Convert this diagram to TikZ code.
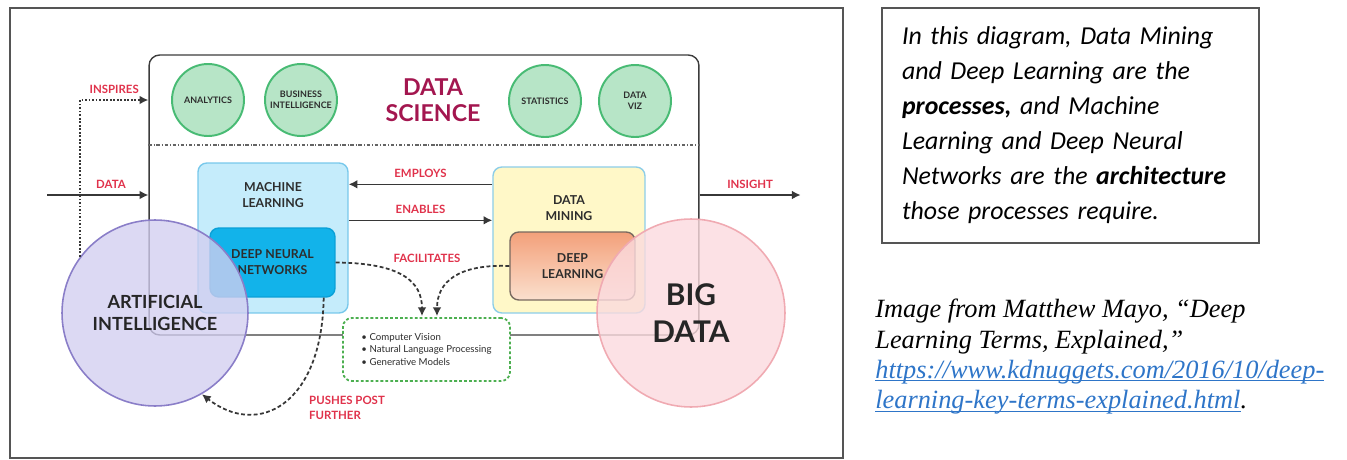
\documentclass[tikz,border=0pt]{standalone}
\usepackage{fontspec}
\newfontfamily\latofont{Lato}
\newfontfamily\calibrifont{Carlito}
\newfontfamily\timesfont{Liberation Serif}
\usetikzlibrary{shapes, arrows.meta, positioning, calc}
\definecolor{cFrame}{RGB}{85, 85, 85}
\definecolor{cDsDraw}{RGB}{60, 60, 60}
\definecolor{cSep}{RGB}{100, 100, 100}
\definecolor{cDsText}{RGB}{163, 22, 79}
\definecolor{cTopicFill}{RGB}{183, 229, 199}
\definecolor{cTopicDraw}{RGB}{72, 187, 116}
\definecolor{cMlFill}{RGB}{197, 236, 251}
\definecolor{cMlDraw}{RGB}{120, 200, 235}
\definecolor{cDnnFill}{RGB}{18, 179, 234}
\definecolor{cDnnDraw}{RGB}{10, 160, 215}
\definecolor{cDmFill}{RGB}{255, 248, 200}
\definecolor{cDmDraw}{RGB}{140, 205, 232}
\definecolor{cDlTop}{RGB}{243, 160, 122}
\definecolor{cDlBottom}{RGB}{251, 224, 206}
\definecolor{cDlDraw}{RGB}{120, 105, 95}
\definecolor{cGbDraw}{RGB}{76, 175, 80}
\definecolor{cAiFill}{RGB}{210, 206, 240}
\definecolor{cAiDraw}{RGB}{138, 126, 200}
\definecolor{cBdFill}{RGB}{251, 218, 222}
\definecolor{cBdDraw}{RGB}{240, 170, 178}
\definecolor{cRel}{RGB}{224, 50, 75}
\definecolor{cBoxText}{RGB}{45, 45, 45}
\definecolor{lineColor}{RGB}{55, 55, 55}
\definecolor{cLink}{RGB}{46, 117, 200}
\newcommand\linkText[1]{\textcolor{cLink}{\underline{\smash{#1}}}}
\tikzset{
    font=\latofont,
    % outer frame
    frameLine/.style={draw=cFrame, line width=1.1pt},
    % boxes
    block/.style={
        rectangle, rounded corners=5pt, align=center,
        line width=0.8pt, inner sep=1pt
    },
    dsBox/.style={block, draw=cDsDraw, rounded corners=6pt, minimum width=11cm, minimum height=5.6cm},
    mlBox/.style={block, draw=cMlDraw, fill=cMlFill, minimum width=3cm, minimum height=3cm},
    dnnBox/.style={block, draw=cDnnDraw, fill=cDnnFill, minimum width=2.5cm, minimum height=1.38cm, boxTitle},
    dmBox/.style={block, draw=cDmDraw, fill=cDmFill, minimum width=3.04cm, minimum height=2.92cm},
    dlBox/.style={block, draw=cDlDraw, top color=cDlTop, bottom color=cDlBottom, minimum width=2.5cm, minimum height=1.36cm, boxTitle},
    gBox/.style={block, draw=cGbDraw, fill=white, line width=1pt, dash pattern=on 1.6pt off 1.2pt,
        minimum width=3.34cm, minimum height=1.26cm, align=left,
        font=\latofont\fontsize{5.5}{6.9}\selectfont, text=cBoxText},
    boxTitle/.style={align=center, text=cBoxText, font=\latofont\bfseries\fontsize{7}{9}\selectfont},
    % circles
    topic/.style={
        circle, draw=cTopicDraw, fill=cTopicFill, line width=1.1pt,
        minimum size=1.44cm, inner sep=0pt, align=center, text=cBoxText,
        font=\latofont\bfseries\fontsize{5.1}{6}\selectfont
    },
    bigCircle/.style={circle, inner sep=0pt, align=center, line width=0.9pt, text opacity=1, text=black!85},
    aiCircle/.style={bigCircle, draw=cAiDraw, fill=cAiFill, fill opacity=0.78, minimum size=3.72cm,
        font=\latofont\bfseries\fontsize{10.3}{12.6}\selectfont},
    bdCircle/.style={bigCircle, draw=cBdDraw, fill=cBdFill, fill opacity=0.8, minimum size=3.76cm,
        font=\latofont\bfseries\fontsize{17}{21.5}\selectfont},
    % connectors
    conn/.style={draw=lineColor, -{Latex[length=5pt, width=5pt]}, line width=0.9pt},
    dashConn/.style={conn, line width=1pt, dash pattern=on 2.2pt off 1.4pt},
    dotConn/.style={conn, line width=1.2pt, dash pattern=on 1pt off 1pt},
    sepLine/.style={draw=cSep, line width=0.8pt, dash pattern=on 2pt off 1pt on 0.6pt off 1pt},
    relText/.style={text=cRel, font=\latofont\bfseries\fontsize{6.5}{8.5}\selectfont},
    % right-hand notes
    noteBox/.style={draw=cFrame, line width=0.9pt, minimum width=7.54cm, minimum height=4.7cm,
        inner xsep=0.4cm, text width=6.74cm, align=left,
        font=\calibrifont\itshape\fontsize{14.7}{19.9}\selectfont},
    citeText/.style={align=left, anchor=north west, inner sep=0pt,
        font=\timesfont\itshape\fontsize{15}{17.2}\selectfont}
}

\begin{document}
\begin{tikzpicture}[x=0.02cm, y=-0.02cm]
	\useasboundingbox (0,0) rectangle (1347,460);

	% ==========================================
	% frame + data science
	% ==========================================
	\draw [frameLine] (10,8) rectangle (843,458);

	\node [dsBox] (ds) at (424,195) {};
	\coordinate (sepY) at (0,145);
	\draw [sepLine] (ds.west |- sepY) -- (ds.east |- sepY);

	\node [topic] (analytics) at (208,100) {ANALYTICS};
	\node [topic] (busInt) at (301,100) {BUSINESS\\INTELLIGENCE};
	\node [topic] (stats) at (545,101) {STATISTICS};
	\node [topic] (dataViz) at (635,101) {DATA\\VIZ};

	\node [text=cDsText, font=\latofont\bfseries\fontsize{13.2}{15}\selectfont, align=center]
	(dsTitle) at (433,100) {DATA\\SCIENCE};

	% ==========================================
	% machine learning / data mining
	% ==========================================
	\node [mlBox] (ml) at (273,238) {};
	\node [boxTitle] (mlTitle) at ($(ml.north)+(0,33)$) {MACHINE\\LEARNING};
	\node [dnnBox] (dnn) at (272.5,262.5) {DEEP NEURAL\\NETWORKS};

	\node [dmBox] (dm) at (569,240) {};
	\node [boxTitle] (dmTitle) at ($(dm.north)+(0,42)$) {DATA\\MINING};
	\node [dlBox] (dl) at (572.5,266) {DEEP\\LEARNING};

	\coordinate (empY) at ($(dm.north west)+(0,18)$);
	\draw [conn] (empY) -- (empY -| ml.east) node [midway, above, relText] {EMPLOYS};
	\coordinate (enaY) at ($(ml.north east)+(0,58)$);
	\draw [conn] (enaY) -- (enaY -| dm.west) node [midway, above, relText] {ENABLES};

	% --- applications box ---
	\node [gBox] (apps) at (426.5,349.5) {
		\textbullet\ Computer Vision\\
		\textbullet\ Natural Language Processing\\
		\textbullet\ Generative Models
	};

	\draw [dashConn] (dnn.east) .. controls (402,263) and (422,282) .. ($(apps.north)+(-4.5,-1)$);
	\draw [dashConn] (dl.west) .. controls (458,264) and (437,282) .. ($(apps.north)+(10.5,-1)$);
	\node [relText] (facil) at (427,258) {FACILITATES};

	% ==========================================
	% big circles
	% ==========================================
	\node [aiCircle] (ai) at (155,313) {ARTIFICIAL\\INTELLIGENCE};
	\node [bdCircle] (bd) at (691,313) {BIG\\DATA};

	\draw [dotConn] (ai.143) |- (ds.west |- analytics)
	node [pos=0.75, above, relText] {INSPIRES};

	\coordinate (dataIn) at ($(ds.west)+(-101,0)$);
	\draw [conn] (dataIn) -- (ds.west) node [pos=0.63, above, relText] {DATA};

	\coordinate (insightOut) at ($(ds.east)+(101,0)$);
	\draw [conn] (ds.east) -- (insightOut) node [midway, above, relText] {INSIGHT};

	\draw [dashConn] ($(dnn.south east)+(-12,0)$) .. controls (322,405) and (258,438) .. (ai.-60);
	\node [relText, align=left, anchor=west] (pushes) at (303,408) {PUSHES POST\\FURTHER};

	% ==========================================
	% notes on the right
	% ==========================================
	\node [noteBox] (note) at (1070.5,125.5) {
		In this diagram, Data Mining\\
		and Deep Learning are the\\
		\textbf{processes,} and Machine\\
		Learning and Deep Neural\\
		Networks are the \textbf{architecture}\\
		those processes require.
	};

	\node [citeText] (cite) at (875,299) {
		Image from Matthew Mayo, “Deep\\
		Learning Terms, Explained,”\\
		\linkText{https://www.kdnuggets.com/2016/10/deep-}\\
		\linkText{learning-key-terms-explained.html}.
	};

\end{tikzpicture}
\end{document}
